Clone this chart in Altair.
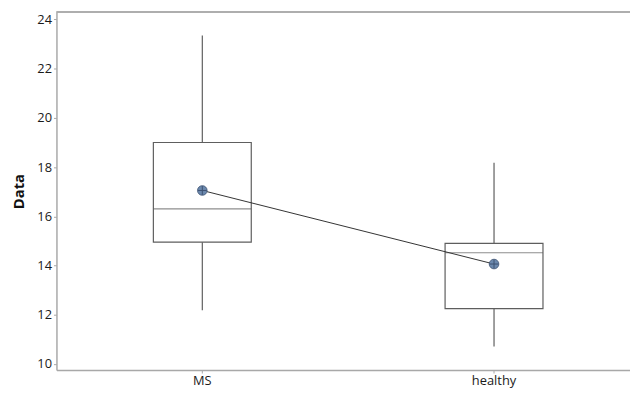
import altair as alt
import pandas as pd

groups = ["MS", "healthy"]
q1 = [14.95, 12.25]
median = [16.3, 14.52]
q3 = [19.0, 14.9]
whisker_low = [12.18, 10.71]
whisker_high = [23.35, 18.18]
means = [17.05, 14.06]
y_ticks = [10, 12, 14, 16, 18, 20, 22, 24]

df = pd.DataFrame({
    "group": groups, "q1": q1, "median": median, "q3": q3,
    "lo": whisker_low, "hi": whisker_high, "mean": means,
})

W, H = 580, 362
FONT = "Open Sans"
GRAY = "#5e5e5e"
FRAME = "#a8a8a8"

x = alt.X("group:N", sort=groups, title=None,
          scale=alt.Scale(type="band", paddingInner=0, paddingOuter=0, range=[0, 590]),
          axis=alt.Axis(labelAngle=0, labelFont=FONT, labelFontSize=13,
                        labelColor="#1a1a1a", labelPadding=2, tickSize=3,
                        tickColor=FRAME, domainColor=FRAME, domainWidth=1.5,
                        grid=False))
yscale = alt.Scale(domain=[9.75, 24.3], nice=False, zero=False)
yaxis = alt.Axis(values=y_ticks, title="Data", titleFont=FONT, titleFontSize=15,
                 titleFontWeight="bold", titleColor="#111111", titleAngle=-90,
                 titleX=-38, titleY=H / 2, titleAlign="center", titleBaseline="middle",
                 labelFont=FONT, labelFontSize=13, labelColor="#1a1a1a",
                 labelPadding=2, tickSize=3, tickColor=FRAME, domainColor=FRAME,
                 domainWidth=1.5, grid=False)

base = alt.Chart(df)

whisk = base.mark_rule(color=GRAY, strokeWidth=1.2).encode(
    x=x, y=alt.Y("lo:Q", scale=yscale, axis=yaxis), y2="hi:Q")
box = base.mark_bar(fill="white", stroke=GRAY, strokeWidth=1.2, size=99).encode(
    x=x, y=alt.Y("q1:Q", scale=yscale), y2="q3:Q")
med = base.mark_tick(color=GRAY, size=99, thickness=1.2).encode(
    x=x, y=alt.Y("median:Q", scale=yscale))
mline = base.mark_line(color="#333333", strokeWidth=1).encode(
    x=x, y=alt.Y("mean:Q", scale=yscale))
mpt = base.mark_point(shape="circle", filled=True, size=95, fill="#6b88ad",
                      stroke="#3e5272", strokeWidth=0.8, opacity=1).encode(
    x=x, y=alt.Y("mean:Q", scale=yscale))
mplus = base.mark_point(shape="M-1,0L1,0M0,-1L0,1", size=80, filled=False,
                        stroke="#3e5272", strokeWidth=1, opacity=1).encode(
    x=x, y=alt.Y("mean:Q", scale=yscale))
top = alt.Chart(df).mark_rule(color=FRAME, strokeWidth=1.5).encode(
    x=alt.value(0), x2=alt.value(W), y=alt.value(0))

chart = alt.layer(whisk, box, med, mline, mpt, mplus, top).properties(
    width=W, height=H,
    autosize=alt.AutoSizeParams(type="none"),
    padding={"left": 49, "top": 2, "right": 0, "bottom": 19},
    background="white",
).configure_view(stroke=None)

chart.save("out.html", embed_options={"renderer": "svg", "actions": False})
